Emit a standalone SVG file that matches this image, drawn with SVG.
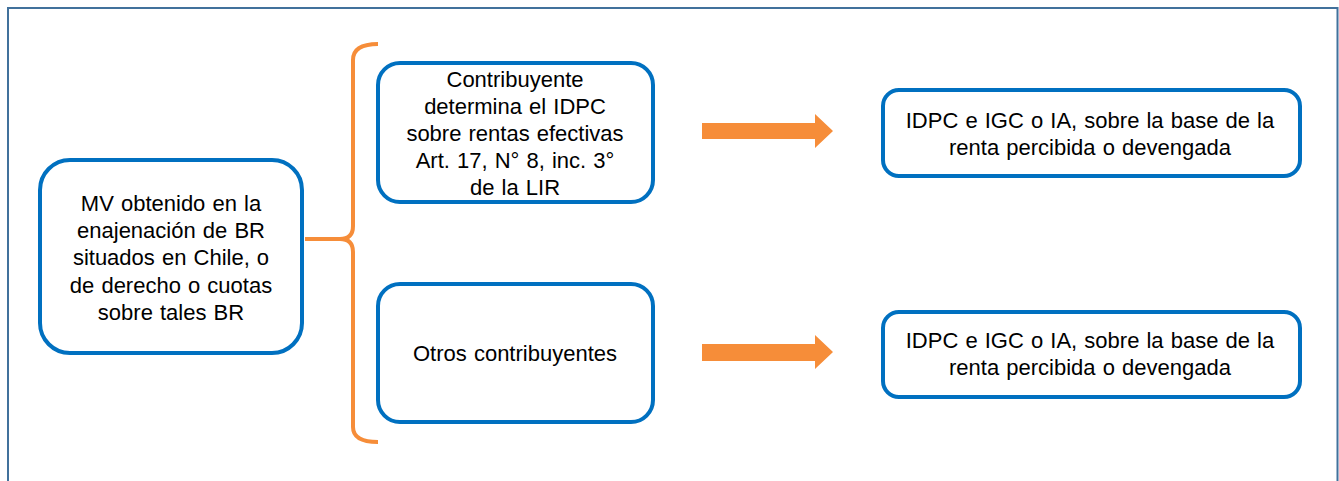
<svg xmlns="http://www.w3.org/2000/svg" width="1339" height="481" viewBox="0 0 1339 481">
<style>
.box{fill:#fff;stroke:#0070C0;stroke-width:4}
.t{font-family:"Liberation Sans",Arial,sans-serif;font-size:22px;word-spacing:1px;fill:#000;text-anchor:middle}
.br{fill:none;stroke:#F68D39;stroke-width:4}
.arr{fill:#F68D39}
</style>
<rect x="0" y="0" width="1339" height="481" fill="#fff"/>
<rect x="8" y="8" width="1329.5" height="480" fill="none" stroke="#41719C" stroke-width="2"/>
<g id="connectors">
<path class="br" d="M378,44 Q353,44 353,60 L353,226 Q353,239 340,239 Q353,239 353,252 L353,427 Q353,442 378,442"/>
<path class="br" d="M305,239 L342,239"/>
<polygon class="arr" points="702,123 815,123 815,114 833,131 815,148 815,139 702,139"/>
<polygon class="arr" points="702,344 815,344 815,335 833,352 815,369 815,361 702,361"/>
</g>
<g id="n-mv">
<rect class="box" x="40" y="160" width="262" height="193" rx="30"/>
<text class="t"><tspan x="171" y="211">MV obtenido en la</tspan><tspan x="171" y="238">enajenación de BR</tspan><tspan x="171" y="265">situados en Chile, o</tspan><tspan x="171" y="293">de derecho o cuotas</tspan><tspan x="171" y="320">sobre tales BR</tspan></text>
</g>
<g id="n-contrib">
<rect class="box" x="378" y="63" width="275" height="139" rx="22"/>
<text class="t"><tspan x="515" y="87">Contribuyente</tspan><tspan x="515" y="114">determina el IDPC</tspan><tspan x="515" y="141">sobre rentas efectivas</tspan><tspan x="515" y="168">Art. 17, N° 8, inc. 3°</tspan><tspan x="515" y="195">de la LIR</tspan></text>
</g>
<g id="n-otros">
<rect class="box" x="378" y="284" width="275" height="138" rx="22"/>
<text class="t" x="515" y="361">Otros contribuyentes</text>
</g>
<g id="n-res1">
<rect class="box" x="883" y="90" width="417" height="86" rx="16"/>
<text class="t"><tspan x="1090" y="128">IDPC e IGC o IA, sobre la base de la</tspan><tspan x="1090" y="155">renta percibida o devengada</tspan></text>
</g>
<g id="n-res2">
<rect class="box" x="883" y="312" width="417" height="85" rx="16"/>
<text class="t"><tspan x="1090" y="348">IDPC e IGC o IA, sobre la base de la</tspan><tspan x="1090" y="375">renta percibida o devengada</tspan></text>
</g>
</svg>
